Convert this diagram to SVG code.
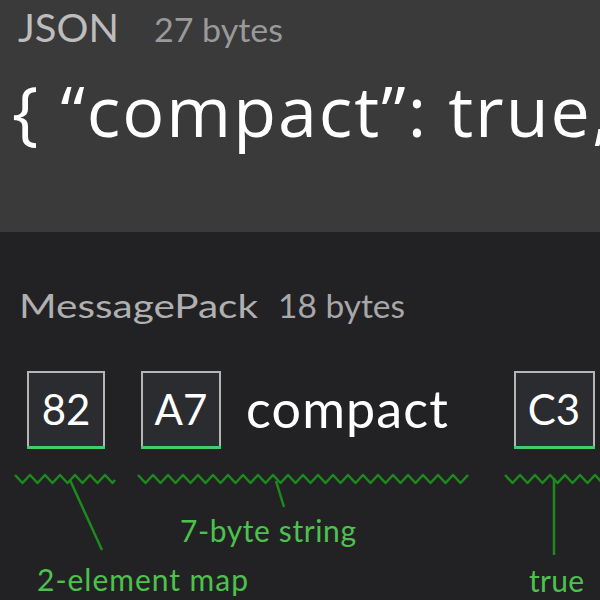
<svg xmlns="http://www.w3.org/2000/svg" width="600" height="600" viewBox="0 0 600 600">
<defs>
<style>
.hdr{font-family:Lato,"Open Sans",sans-serif;}
.box rect{fill:#2b2c2f;stroke:#b5b5b5;stroke-width:2;}
.box line{stroke:#3ecf6a;stroke-width:3;}
.box text{font-family:Lato,"Open Sans",sans-serif;font-size:42px;fill:#ffffff;text-anchor:middle;}
.zig{fill:none;stroke:#1d8a1d;stroke-width:2.5;stroke-linejoin:round;}
.lead{stroke:#1d8a1d;stroke-width:2.5;}
.lbl{font-family:Lato,"Open Sans",sans-serif;font-size:30px;fill:#4cc24c;}
</style>
</defs>
<rect x="0" y="0" width="600" height="232" fill="#3a3a3a"/>
<rect x="0" y="232" width="600" height="368" fill="#222225"/>

<g id="json-header">
<text class="hdr" x="18" y="42" font-size="39" fill="#bdbdbd" textLength="101" lengthAdjust="spacingAndGlyphs">JSON</text>
<text class="hdr" x="154" y="42" font-size="33" fill="#9a9a9a" textLength="129" lengthAdjust="spacingAndGlyphs">27 bytes</text>
</g>
<g id="json-code">
<text x="12" y="137" font-family="'Open Sans',sans-serif" font-size="70" fill="#ffffff" textLength="598">{ “compact”: true,</text>
</g>

<g id="msgpack-header">
<text class="hdr" x="19" y="318" font-size="32" fill="#b0b0b0" textLength="239" lengthAdjust="spacingAndGlyphs">MessagePack</text>
<text class="hdr" x="278" y="318" font-size="32" fill="#a8a8a8" textLength="127" lengthAdjust="spacingAndGlyphs">18 bytes</text>
</g>

<g id="box-82" class="box">
<rect x="28" y="372" width="76" height="75"/>
<line x1="27" y1="447.5" x2="105" y2="447.5"/>
<text x="66" y="425">82</text>
</g>
<g id="box-a7" class="box">
<rect x="142" y="372" width="78" height="75"/>
<line x1="141" y1="447.5" x2="221" y2="447.5"/>
<text x="181" y="425">A7</text>
</g>
<g id="text-compact">
<text x="246" y="428" font-family="Lato,'Open Sans',sans-serif" font-size="52" fill="#ffffff" textLength="202">compact</text>
</g>
<g id="box-c3" class="box">
<rect x="515" y="372" width="79" height="75"/>
<line x1="514" y1="447.5" x2="595" y2="447.5"/>
<text x="554" y="425">C3</text>
</g>

<g id="connectors">
<polyline class="zig" points="15,475 22.5,483 30,475 37.5,483 45,475 52.5,483 60,475 67.5,483 75,475 82.5,483 90,475 97.5,483 105,475 112.5,483 115,480"/>
<polyline class="zig" points="138,475 145.5,483 153,475 160.5,483 168,475 175.5,483 183,475 190.5,483 198,475 205.5,483 213,475 220.5,483 228,475 235.5,483 243,475 250.5,483 258,475 265.5,483 273,475 280.5,483 288,475 295.5,483 303,475 310.5,483 318,475 325.5,483 333,475 340.5,483 348,475 355.5,483 363,475 370.5,483 378,475 385.5,483 393,475 400.5,483 408,475 415.5,483 423,475 430.5,483 438,475 445.5,483 453,475 460.5,483 468,475"/>
<polyline class="zig" points="505,475 512.5,483 520,475 527.5,483 535,475 542.5,483 550,475 557.5,483 565,475 572.5,483 580,475 587.5,483 595,475 602.5,483"/>
<line class="lead" x1="70" y1="480" x2="102" y2="550"/>
<line class="lead" x1="276" y1="481" x2="284" y2="507"/>
<line class="lead" x1="554" y1="478" x2="554" y2="555"/>
</g>

<g id="labels">
<text class="lbl" x="37" y="591" textLength="211">2-element map</text>
<text class="lbl" x="180" y="542" textLength="176">7-byte string</text>
<text class="lbl" x="529" y="592" textLength="55">true</text>
</g>
</svg>
